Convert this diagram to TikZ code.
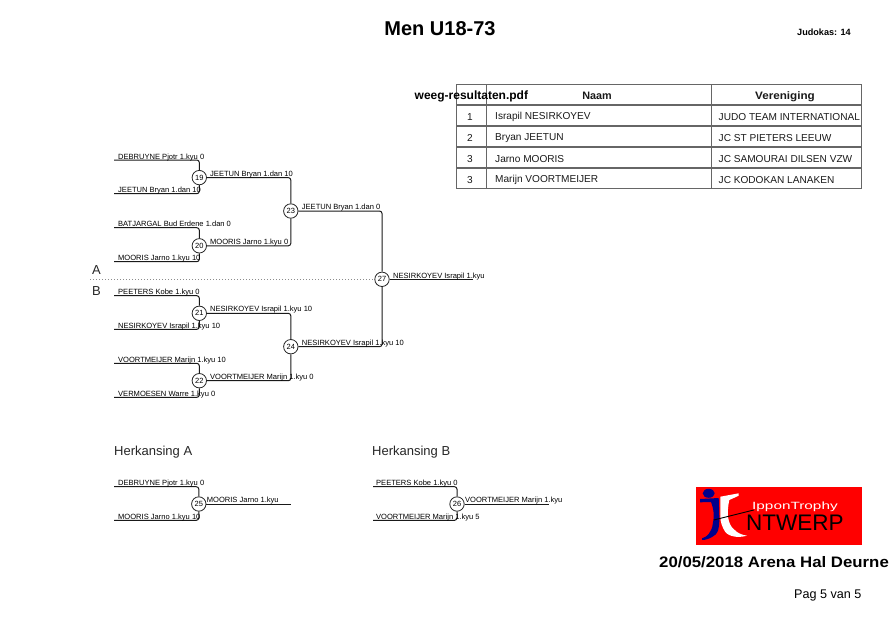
\documentclass[tikz,border=0pt]{standalone}
\usepackage{fontspec}
\usepackage{graphicx}
\setmainfont{Liberation Sans}
\tikzset{
  every picture/.style={x=1pt,y=-1pt},
  wire/.style={draw=black!90,line width=1pt,rounded corners=2.5pt},
  matchno/.style={circle,draw=black!85,fill=white,line width=0.8pt,minimum size=14.4pt,inner sep=0pt,font=\fontsize{7.5}{8}\selectfont},
  lab/.style={anchor=base west,inner sep=0pt,font=\fontsize{7.55}{9}\selectfont,text=black},
  cell/.style={inner sep=0pt,font=\fontsize{10.1}{12}\selectfont,text=black!90},
  head/.style={inner sep=0pt,anchor=base,font=\fontsize{10.8}{12}\selectfont\bfseries,text=black!90},
  side/.style={anchor=base west,inner sep=0pt,font=\fontsize{13}{15}\selectfont,text=black!85},
}
\begin{document}
\begin{tikzpicture}
\useasboundingbox (0,0) rectangle (891,630);
\clip (0,0) rectangle (891,630);
% title
\node[inner sep=0pt,anchor=base] (title) at (440,35) {\fontsize{20}{22}\selectfont\bfseries Men U18-73};
\node[inner sep=0pt,anchor=base west] (count) at (797,35.5) {\fontsize{9.1}{10}\selectfont\bfseries Judokas: 14};
% separator
\coordinate (sepL) at (90,279.3);
% match circles
\node[matchno] (m19) at (199.3,177.6) {19};
\node[matchno] (m20) at (199.3,245.8) {20};
\node[matchno] (m21) at (199.3,313.3) {21};
\node[matchno] (m22) at (199.3,380.7) {22};
\node[matchno] (m23) at (290.8,211) {23};
\node[matchno] (m24) at (290.8,346.7) {24};
\node[matchno] (m27) at (382,279.3) {27};
\node[matchno] (m25) at (198.8,504) {25};
\node[matchno] (m26) at (457,504) {26};
% free ends
\coordinate (a19) at (114,160);
\coordinate (b19) at (114,193.7);
\coordinate (a20) at (114,227.7);
\coordinate (b20) at (114,261.7);
\coordinate (a21) at (114,295.7);
\coordinate (b21) at (114,329.3);
\coordinate (a22) at (114,363.3);
\coordinate (b22) at (114,397.3);
\coordinate (a25) at (114,486.7);
\coordinate (b25) at (114,520.3);
\coordinate (a26) at (373,486.7);
\coordinate (b26) at (373,520.3);
\coordinate (e27) at (473,279.3);
\coordinate (e25) at (291,504);
\coordinate (e26) at (549,504);
% connectors
\draw[black!45,line width=1pt,dash pattern=on 1pt off 2pt] (sepL) -- (m27);
\foreach \n in {19,20,21,22,25,26}{
  \draw[wire] (a\n) -| (m\n);
  \draw[wire] (b\n) -| (m\n);
}
\draw[wire] (m19) -| (m23);
\draw[wire] (m20) -| (m23);
\draw[wire] (m21) -| (m24);
\draw[wire] (m22) -| (m24);
\draw[wire] (m23) -| (m27);
\draw[wire] (m24) -| (m27);
\draw[wire] (m27) -- (e27);
\draw[wire] (m25) -- (e25);
\draw[wire] (m26) -- (e26);
% labels
\node[lab] (l1) at (118,159) {DEBRUYNE Pjotr 1.kyu 0};
\node[lab] (l2) at (118,192.7) {JEETUN Bryan 1.dan 10};
\node[lab] (l3) at (118,226.7) {BATJARGAL Bud Erdene 1.dan 0};
\node[lab] (l4) at (118,260.7) {MOORIS Jarno 1.kyu 10};
\node[lab] (l5) at (118,294.7) {PEETERS Kobe 1.kyu 0};
\node[lab] (l6) at (118,328.3) {NESIRKOYEV Israpil 1.kyu 10};
\node[lab] (l7) at (118,362.3) {VOORTMEIJER Marijn 1.kyu 10};
\node[lab] (l8) at (118,396.3) {VERMOESEN Warre 1.kyu 0};
\node[lab] (l9) at (210,176.3) {JEETUN Bryan 1.dan 10};
\node[lab] (l10) at (210,244.5) {MOORIS Jarno 1.kyu 0};
\node[lab] (l11) at (210,311.8) {NESIRKOYEV Israpil 1.kyu 10};
\node[lab] (l12) at (210,379.5) {VOORTMEIJER Marijn 1.kyu 0};
\node[lab] (l13) at (301.7,209.7) {JEETUN Bryan 1.dan 0};
\node[lab] (l14) at (301.7,345.5) {NESIRKOYEV Israpil 1.kyu 10};
\node[lab] (l15) at (393,278) {NESIRKOYEV Israpil 1.kyu};
\node[lab] (l16) at (118,485.7) {DEBRUYNE Pjotr 1.kyu 0};
\node[lab] (l17) at (118,519.3) {MOORIS Jarno 1.kyu 10};
\node[lab] (l18) at (206.7,502.8) {MOORIS Jarno 1.kyu};
\node[lab] (l19) at (376,485.7) {PEETERS Kobe 1.kyu 0};
\node[lab] (l20) at (376,519.3) {VOORTMEIJER Marijn 1.kyu 5};
\node[lab] (l21) at (465,502.8) {VOORTMEIJER Marijn 1.kyu};
% side labels
\node[side] (sA) at (92,274) {A};
\node[side] (sB) at (92,295) {B};
\node[side] (hA) at (114,455) {Herkansing A};
\node[side] (hB) at (372,455) {Herkansing B};
% table
\draw[black!60,line width=0.9pt] (456.5,84.5) rectangle (861,188.5);
\foreach \yy in {105,126,147,168}{\draw[black!60,line width=1.1pt] (456.5,\yy) -- (861,\yy);}
\foreach \xx in {486.5,711.5}{\draw[black!60,line width=1pt] (\xx,84.5) -- (\xx,188.5);}
\node[inner sep=0pt,anchor=base west] (pdf) at (414.5,99) {\fontsize{12}{14}\selectfont\bfseries weeg-resultaten.pdf};
\node[head] (hN) at (597,99) {Naam};
\node[head] (hV) at (785,99) {\scalebox{1.08}[1]{Vereniging}};
\node[cell] (r1) at (470,116.6) {1};
\node[cell] (r2) at (470,137.6) {2};
\node[cell] (r3) at (470,158.6) {3};
\node[cell] (r4) at (470,179.6) {3};
\node[cell,anchor=west] (n1) at (495,116.6) {Israpil NESIRKOYEV};
\node[cell,anchor=west] (n2) at (495,137.6) {Bryan JEETUN};
\node[cell,anchor=west] (n3) at (495,158.6) {Jarno MOORIS};
\node[cell,anchor=west] (n4) at (495,179.6) {Marijn VOORTMEIJER};
\node[cell,anchor=west] (c1) at (718.5,116.6) {JUDO TEAM INTERNATIONAL};
\node[cell,anchor=west] (c2) at (718.5,137.6) {JC ST PIETERS LEEUW};
\node[cell,anchor=west] (c3) at (718.5,158.6) {JC SAMOURAI DILSEN VZW};
\node[cell,anchor=west] (c4) at (718.5,179.6) {JC KODOKAN LANAKEN};
% logo
\fill[red] (696,487) rectangle (862,545.3);
\fill[white] (720.3,496.7) -- (738.7,493.3) -- (738.7,495.7) -- (729.3,500)
  .. controls (728,506) and (727.5,512) .. (728,517)
  .. controls (729,523) and (731,527) .. (733.7,529)
  .. controls (737,533) and (742,535) .. (747,535.7)
  .. controls (742,537) and (738,537) .. (735.3,536.7)
  .. controls (730,536) and (727,534) .. (725.3,532)
  .. controls (722,527) and (720.5,522) .. (720.3,517) -- cycle;
\fill[blue!55!black] (708.7,493.3) ellipse (6 and 4.5);
\fill[blue!55!black] (700,499) -- (718.7,498) -- (719.3,517)
  .. controls (719.5,522) and (719,527) .. (718,530.7)
  .. controls (716.5,534) and (714.5,536) .. (712,537)
  .. controls (709,539) and (705,540) .. (702,540) -- (702,538.3)
  .. controls (705,537.5) and (707,536) .. (708.7,534)
  .. controls (711,531) and (712.3,528) .. (712.7,524)
  .. controls (713.5,520) and (714,517) .. (713.7,514)
  .. controls (713.5,510) and (712.5,506) .. (711,502) -- (700,502.3) -- cycle;
\draw[black,line width=0.9pt] (713.7,520) -- (753.7,510);
\node[inner sep=0pt,anchor=base west,text=white] (ip) at (752,509) {\scalebox{1.46}[1]{\fontsize{10.5}{12}\selectfont IpponTrophy}};
\node[inner sep=0pt,anchor=base west] (ntw) at (746,530) {\fontsize{22.5}{26}\selectfont NTWERP};
% footer
\node[inner sep=0pt,anchor=base west] (date) at (659,567) {\scalebox{1.105}[1]{\fontsize{15.2}{18}\selectfont\bfseries 20/05/2018 Arena Hal Deurne}};
\node[inner sep=0pt,anchor=base west] (pag) at (794,598) {\fontsize{12.6}{15}\selectfont Pag 5 van 5};
\end{tikzpicture}
\end{document}
